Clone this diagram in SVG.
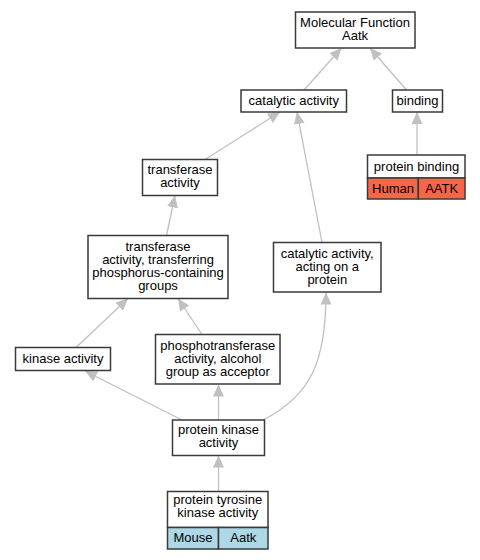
<svg xmlns="http://www.w3.org/2000/svg" width="480" height="560" viewBox="0 0 480 560">
<style>
.box{fill:#ffffff;stroke:#3a3a3a;stroke-width:1.5}
.h{fill:#fa6448;stroke:#3a3a3a;stroke-width:1.5}
.m{fill:#add8e6;stroke:#3a3a3a;stroke-width:1.5}
text{font-family:"Liberation Sans",Arial,sans-serif;font-size:13px;fill:#000;text-anchor:middle}
.e{fill:none;stroke:#c0c0c0;stroke-width:1.3;marker-end:url(#arr)}
</style>
<defs>
<marker id="arr" markerUnits="userSpaceOnUse" markerWidth="12" markerHeight="11" refX="12" refY="5.5" orient="auto">
<path d="M0,0 L12,5.5 L0,11 z" fill="#c0c0c0"/>
</marker>
</defs>
<g id="edges">
<path class="e" d="M304,90 L341.5,48"/>
<path class="e" d="M406.5,90 L370,48"/>
<path class="e" d="M417,155 L417,112"/>
<path class="e" d="M205,159.5 L280,112"/>
<path class="e" d="M322,242.5 L297,112"/>
<path class="e" d="M166.5,235.5 L175,195.5"/>
<path class="e" d="M76,347.5 L128,298.5"/>
<path class="e" d="M202,334.5 L178,298.5"/>
<path class="e" d="M182,420 L85,371"/>
<path class="e" d="M218.5,420 L218.5,384.5"/>
<path class="e" d="M263,420 C312,395 326,360 326,292.5"/>
<path class="e" d="M218.5,491.5 L218.5,455.5"/>
</g>
<g id="mf">
<rect class="box" x="295.5" y="12" width="119.5" height="36"/>
<text x="355" y="26.5">Molecular Function</text>
<text x="355" y="39.5">Aatk</text>
</g>
<g id="catalytic">
<rect class="box" x="241" y="90" width="105.5" height="22"/>
<text x="293.75" y="104.5">catalytic activity</text>
</g>
<g id="binding">
<rect class="box" x="392.5" y="90" width="50" height="22"/>
<text x="417.5" y="104.5">binding</text>
</g>
<g id="proteinbinding">
<rect class="box" x="367.5" y="155" width="97.5" height="23"/>
<text x="416.5" y="170.5">protein binding</text>
<rect class="h" x="367.5" y="178" width="50.8" height="21"/>
<rect class="h" x="418.3" y="178" width="46.7" height="21"/>
<text x="393" y="192.5">Human</text>
<text x="441.7" y="192.5">AATK</text>
</g>
<g id="transferase">
<rect class="box" x="142.5" y="159.5" width="75" height="36"/>
<text x="180" y="174">transferase</text>
<text x="180" y="187">activity</text>
</g>
<g id="transferring">
<rect class="box" x="88" y="235.5" width="140" height="63"/>
<text x="158" y="251">transferase</text>
<text x="158" y="264">activity, transferring</text>
<text x="158" y="277">phosphorus-containing</text>
<text x="158" y="290">groups</text>
</g>
<g id="catonprotein">
<rect class="box" x="273.5" y="242.5" width="107.5" height="49.5"/>
<text x="327.25" y="257.5">catalytic activity,</text>
<text x="327.25" y="270.5">acting on a</text>
<text x="327.25" y="283.5">protein</text>
</g>
<g id="kinase">
<rect class="box" x="15.5" y="347.5" width="95" height="23"/>
<text x="63" y="362.5">kinase activity</text>
</g>
<g id="phospho">
<rect class="box" x="155.5" y="334.5" width="124.5" height="49.5"/>
<text x="217.75" y="349.5">phosphotransferase</text>
<text x="217.75" y="362.5">activity, alcohol</text>
<text x="217.75" y="375.5">group as acceptor</text>
</g>
<g id="proteinkinase">
<rect class="box" x="172.5" y="420" width="92" height="35.5"/>
<text x="218.5" y="434">protein kinase</text>
<text x="218.5" y="447">activity</text>
</g>
<g id="tyrosine">
<rect class="box" x="167.5" y="491.5" width="100.5" height="36"/>
<text x="217.75" y="504">protein tyrosine</text>
<text x="217.75" y="517">kinase activity</text>
<rect class="m" x="167.5" y="527.5" width="51" height="21.5"/>
<rect class="m" x="218.5" y="527.5" width="49.5" height="21.5"/>
<text x="193" y="542">Mouse</text>
<text x="243.25" y="542">Aatk</text>
</g>
</svg>
